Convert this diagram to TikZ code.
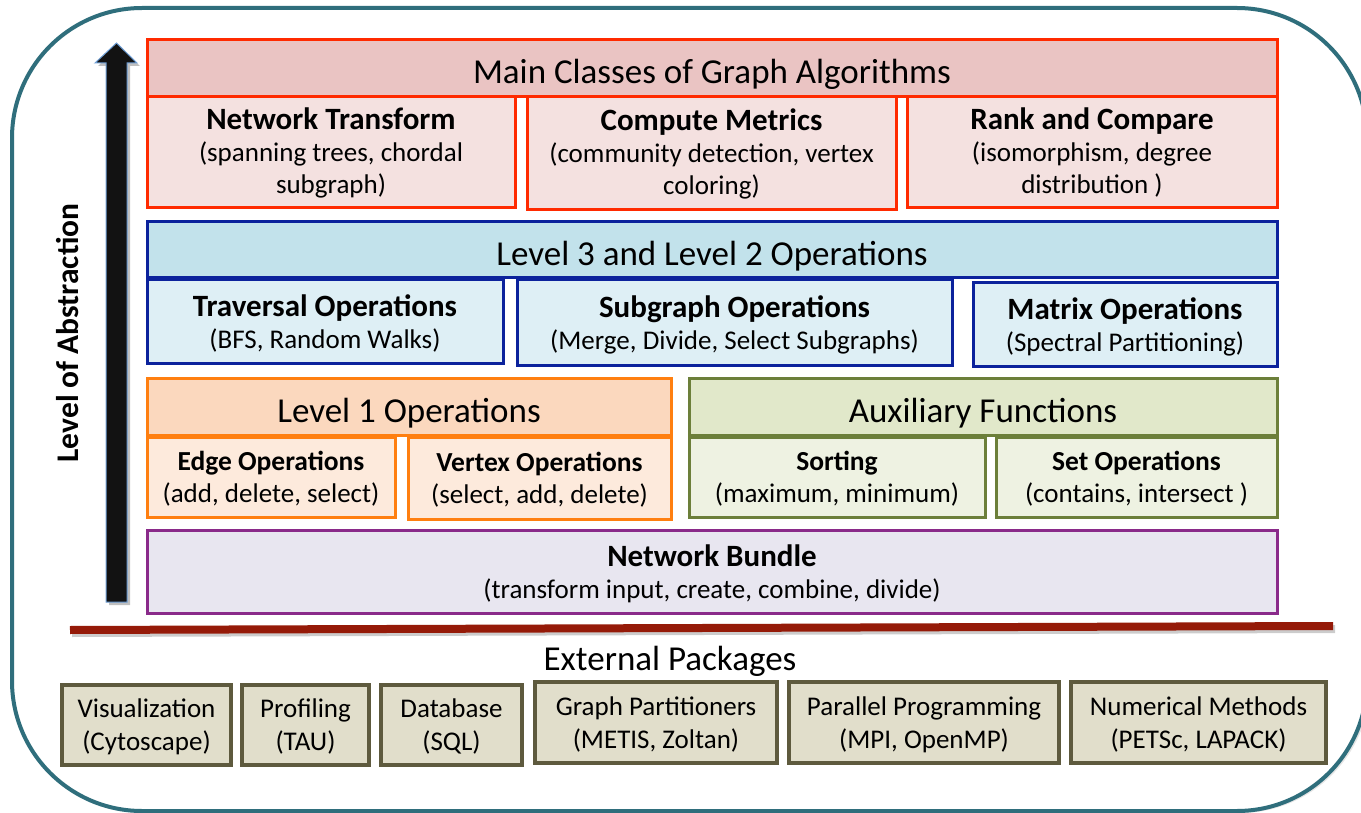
\documentclass[tikz,border=0pt]{standalone}
\usepackage{fontspec}
\setmainfont{Carlito}
\usetikzlibrary{calc}

\definecolor{frameteal}{HTML}{2F6E7C}
\definecolor{redline}{HTML}{FF2A00}
\definecolor{redhead}{HTML}{EAC4C3}
\definecolor{redsubfill}{HTML}{F4E1E0}
\definecolor{blueline}{HTML}{0B229C}
\definecolor{bluehead}{HTML}{C2E2EB}
\definecolor{bluesubfill}{HTML}{DEEFF5}
\definecolor{orangeline}{HTML}{FF7F10}
\definecolor{orangehead}{HTML}{FBD8BE}
\definecolor{orangesubfill}{HTML}{FDEADC}
\definecolor{greenline}{HTML}{6C7F3A}
\definecolor{greenhead}{HTML}{E1E8CA}
\definecolor{greensubfill}{HTML}{EEF2E2}
\definecolor{purpleline}{HTML}{8A2A8A}
\definecolor{purplefill}{HTML}{E8E6F0}
\definecolor{pkgline}{HTML}{5E5A3E}
\definecolor{pkgfill}{HTML}{E1DECB}
\definecolor{sepred}{HTML}{951A08}
\definecolor{arrowedge}{HTML}{6F9FD6}

% fonts
\newcommand\headfont{\fontsize{35}{40}\selectfont}
\newcommand\subtfont{\bfseries\fontsize{31}{34}\selectfont}
\newcommand\smallsubt{\bfseries\fontsize{27.5}{32}\selectfont}
\newcommand\descfont{\fontsize{27}{32}\selectfont}
\newcommand\pkgfont{\fontsize{27}{33}\selectfont}

% a box given by its corners (x1,y1) and (x2,y2)
\newcommand\layerbox[7]{%
  \node[#1, minimum width={(#5-#3)*1pt}, minimum height={(#6-#4)*1pt}]
    (#2) at ({(#3+#5)/2},{(#4+#6)/2}) {#7};}

\tikzset{
  blk/.style={rectangle, inner sep=0pt, outer sep=0pt, align=center, line width=3pt},
  headblk/.style={blk, font=\headfont, text height=31pt, text depth=0pt},
  % two-line boxes: a strut on the first line sets where the text sits
  twoline/.style={blk, text depth=0pt, execute at begin node={\rule{0pt}{#1}}},
  twoline/.default=26pt,
  redtop/.style={headblk, draw=redline, fill=redhead},
  redsub/.style={blk, draw=redline, fill=redsubfill, font=\descfont},
  bluetop/.style={headblk, draw=blueline, fill=bluehead},
  bluesub/.style={twoline, draw=blueline, fill=bluesubfill, font=\descfont},
  orangetop/.style={headblk, draw=orangeline, fill=orangehead},
  orangesub/.style={twoline=24pt, draw=orangeline, fill=orangesubfill, font=\descfont},
  greentop/.style={headblk, draw=greenline, fill=greenhead},
  greensub/.style={twoline=24pt, draw=greenline, fill=greensubfill, font=\descfont},
  bundlebox/.style={twoline, draw=purpleline, fill=purplefill, font=\descfont},
  pkgbox/.style={twoline=25pt, draw=pkgline, fill=pkgfill, line width=3.5pt, font=\pkgfont},
}

\begin{document}
\begin{tikzpicture}[x=1pt, y=-1pt]
\useasboundingbox (0,0) rectangle (1361,813);
\clip (0,0) rectangle (1361,813);

% outer frame
\fill[gray!40, opacity=0.5, rounded corners=130pt] (14,10) rectangle (1370,813);
\fill[white, rounded corners=130pt] (12,8) rectangle (1367,811);
\draw[frameteal, line width=4pt, rounded corners=130pt] (12,8) rectangle (1367,811);

% abstraction arrow with its shadow
\fill[black, opacity=0.25]
  (109,605) -- (109,66) -- (98,66) -- (119.5,46) -- (140,66) -- (130,66) -- (130,605) -- cycle;
\filldraw[fill=black!93, draw=arrowedge, line width=1pt]
  (106,602) -- (106,63) -- (95,63) -- (116.5,43) -- (137,63) -- (127,63) -- (127,602) -- cycle;
\node[rotate=90, font=\bfseries\fontsize{31.5}{34}\selectfont] (abstr) at (68,333) {Level of Abstraction};

% main classes of graph algorithms
\layerbox{redtop}{mainc}{147}{40}{1277}{97}{Main Classes of Graph Algorithms}
\layerbox{redsub}{ntrans}{147}{97}{515}{208}{{\subtfont Network Transform}\\(spanning trees, chordal\\subgraph)}
\layerbox{redsub}{cmetric}{527}{97}{896}{210}{{\subtfont Compute Metrics}\\(community detection, vertex\\coloring)}
\layerbox{redsub}{rankc}{907}{97}{1277}{208}{{\subtfont Rank and Compare}\\(isomorphism, degree\\distribution )}

% level 3 and level 2 operations
\layerbox{bluetop}{lvlthree}{147}{222}{1277}{278}{Level 3 and Level 2 Operations}
\layerbox{bluesub}{travops}{147}{280}{503}{363}{{\subtfont Traversal Operations}\\(BFS, Random Walks)}
\layerbox{bluesub}{subgops}{517}{280}{952}{365}{{\subtfont Subgraph Operations}\\(Merge, Divide, Select Subgraphs)}
\layerbox{bluesub}{matops}{973}{283}{1277}{366}{{\subtfont Matrix Operations}\\(Spectral Partitioning)}

% level 1 operations
\layerbox{orangetop}{lvlone}{147}{378}{671}{435}{Level 1 Operations}
\layerbox{orangesub}{edgeops}{147}{437}{395}{517}{{\smallsubt Edge Operations}\\(add, delete, select)}
\layerbox{orangesub}{vertops}{408}{437}{671}{519}{{\smallsubt Vertex Operations}\\(select, add, delete)}

% auxiliary functions
\layerbox{greentop}{auxf}{689}{378}{1277}{435}{Auxiliary Functions}
\layerbox{greensub}{sorting}{689}{437}{985}{517}{{\smallsubt Sorting}\\(maximum, minimum)}
\layerbox{greensub}{setops}{996}{437}{1277}{517}{{\smallsubt Set Operations}\\(contains, intersect )}

% network bundle
\layerbox{bundlebox}{bundle}{147}{530}{1277}{613}{{\subtfont Network Bundle}\\(transform input, create, combine, divide)}

% separator between the library and external packages
\coordinate (sepL) at (70,630);
\coordinate (sepR) at (1333,626);
\draw[black, opacity=0.2, line width=8pt] ($(sepL)+(2,3)$) -- ($(sepR)+(2,3)$);
\draw[sepred, line width=8pt] (sepL) -- (sepR);

% external packages
\node[font=\headfont, inner sep=0pt] (extp) at (670,661) {External Packages};
\layerbox{pkgbox}{vis}{62}{685}{231}{765}{Visualization\\(Cytoscape)}
\layerbox{pkgbox}{prof}{242}{685}{369}{765}{Profiling\\(TAU)}
\layerbox{pkgbox}{dbase}{381}{685}{522}{765}{Database\\(SQL)}
\layerbox{pkgbox}{gpart}{535}{682}{777}{763}{Graph Partitioners\\(METIS, Zoltan)}
\layerbox{pkgbox}{parprog}{789}{682}{1059}{763}{Parallel Programming\\(MPI, OpenMP)}
\layerbox{pkgbox}{nummeth}{1071}{682}{1326}{763}{Numerical Methods\\(PETSc, LAPACK)}
\end{tikzpicture}
\end{document}
